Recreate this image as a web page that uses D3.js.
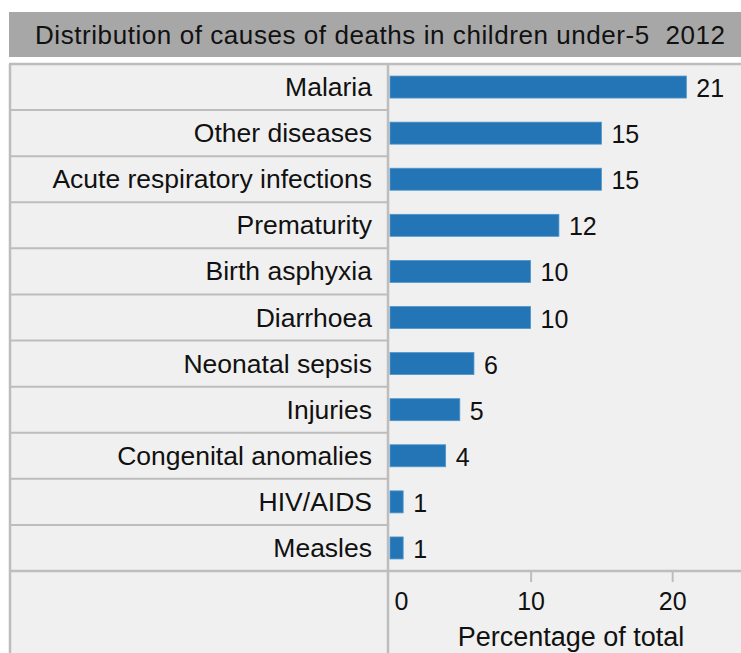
<!DOCTYPE html>
<html>
<head>
<meta charset="utf-8">
<script src="https://cdn.jsdelivr.net/npm/d3@7"></script>
<style>
  html, body { margin: 0; padding: 0; background: #ffffff; }
  svg { display: block; }
  text { font-family: "Liberation Sans", Arial, sans-serif; fill: #111; }
</style>
</head>
<body>
<svg id="chart" width="741" height="653"></svg>
<script>
// Causes of death, children under five, 2012 (percentage of total)
const categories = [
  "Malaria", "Other diseases", "Acute respiratory infections", "Prematurity",
  "Birth asphyxia", "Diarrhoea", "Neonatal sepsis", "Injuries",
  "Congenital anomalies", "HIV/AIDS", "Measles"
];
const values = [21, 15, 15, 12, 10, 10, 6, 5, 4, 1, 1];
const tickValues = [0, 10, 20];
const titleText = "Distribution of causes of deaths in children under-5  2012";
const axisTitle = "Percentage of total";

const W = 741, H = 653;
const svg = d3.select("#chart");

const panel = { left: 9, top: 64, right: W, bottom: H };
const labelRight = 388;   // divider between label column and plot
const rowsBottom = 571;   // bottom of the last category row
const lineColor = "#bdbdbd";

// Title bar
svg.append("rect")
  .attr("x", 9).attr("y", 12).attr("width", W - 9).attr("height", 45)
  .attr("fill", "#a7a7a7");
svg.append("text")
  .attr("x", 35).attr("y", 44)
  .attr("font-size", 26)
  .attr("textLength", 690)
  .attr("lengthAdjust", "spacing")
  .style("white-space", "pre")
  .text(titleText);

// Panel background
svg.append("rect")
  .attr("x", panel.left).attr("y", panel.top)
  .attr("width", panel.right - panel.left).attr("height", panel.bottom - panel.top)
  .attr("fill", "#f0f0f0");

// Scales
const x = d3.scaleLinear().domain([0, 25]).range([389, 743]);
const rowY = d3.scaleBand().domain(categories).range([panel.top, rowsBottom]);
const barH = 22;

// Row dividers in the label column
const g = svg.append("g");
categories.forEach((c) => {
  g.append("line")
    .attr("x1", panel.left).attr("x2", labelRight)
    .attr("y1", rowY(c) + rowY.bandwidth()).attr("y2", rowY(c) + rowY.bandwidth())
    .attr("stroke", lineColor).attr("stroke-width", 2);
});

// Panel top, bottom-of-rows and vertical borders
svg.append("line").attr("x1", panel.left).attr("x2", W)
  .attr("y1", panel.top).attr("y2", panel.top)
  .attr("stroke", lineColor).attr("stroke-width", 2.5);
svg.append("line").attr("x1", panel.left).attr("x2", W)
  .attr("y1", rowsBottom).attr("y2", rowsBottom)
  .attr("stroke", lineColor).attr("stroke-width", 2.5);
svg.append("line").attr("x1", panel.left + 1).attr("x2", panel.left + 1)
  .attr("y1", panel.top).attr("y2", H)
  .attr("stroke", lineColor).attr("stroke-width", 2.5);
svg.append("line").attr("x1", labelRight).attr("x2", labelRight)
  .attr("y1", panel.top).attr("y2", H)
  .attr("stroke", lineColor).attr("stroke-width", 2.5);

// Category labels
svg.append("g").selectAll("text")
  .data(categories)
  .join("text")
  .attr("x", 372)
  .attr("y", (d) => rowY(d) + rowY.bandwidth() / 2 + 9)
  .attr("text-anchor", "end")
  .attr("font-size", 26.5)
  .text((d) => d);

// Bars
const data = categories.map((c, i) => ({ c, v: values[i] }));
svg.append("g").selectAll("rect")
  .data(data)
  .join("rect")
  .attr("x", x(0) + 1)
  .attr("y", (d) => rowY(d.c) + (rowY.bandwidth() - barH) / 2)
  .attr("width", (d) => x(d.v) - x(0) - 1)
  .attr("height", barH)
  .attr("fill", "#2475b6")
  .attr("stroke", "#4f96cc")
  .attr("stroke-width", 0.8);

// Value labels
svg.append("g").selectAll("text")
  .data(data)
  .join("text")
  .attr("x", (d) => x(d.v) + 10)
  .attr("y", (d) => rowY(d.c) + rowY.bandwidth() / 2 + 10)
  .attr("font-size", 25)
  .text((d) => d.v);

// X axis
const axis = d3.axisBottom(x).tickValues(tickValues).tickSize(11).tickPadding(10)
  .tickFormat(d3.format("d"));
const ax = svg.append("g").attr("transform", `translate(0,${rowsBottom})`).call(axis);
ax.select(".domain").remove();
ax.selectAll(".tick line").attr("stroke", lineColor).attr("stroke-width", 2);
ax.selectAll(".tick text")
  .attr("font-size", 25)
  .attr("fill", "#111")
  .attr("font-family", "Liberation Sans, Arial, sans-serif");
ax.selectAll(".tick").filter((d) => d === 0).select("line").remove();
ax.selectAll(".tick").filter((d) => d === 0).select("text").attr("x", 12);

svg.append("text")
  .attr("x", 571).attr("y", 646)
  .attr("text-anchor", "middle")
  .attr("font-size", 27)
  .text(axisTitle);
</script>
</body>
</html>
